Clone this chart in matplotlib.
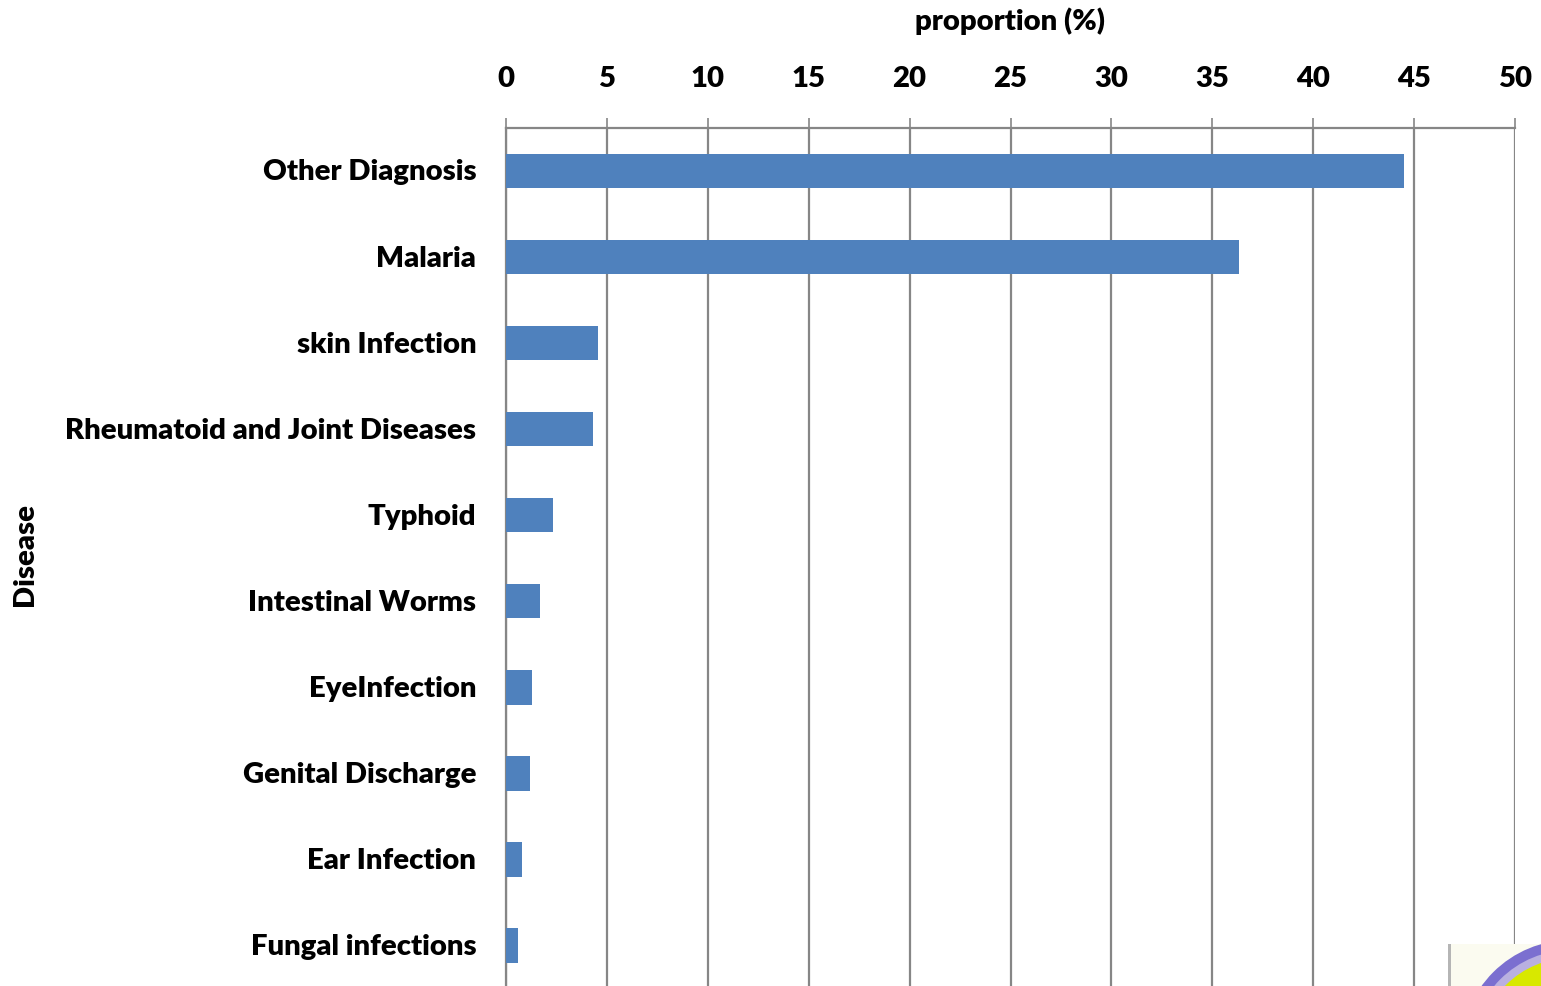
import matplotlib
matplotlib.use("Agg")
import matplotlib.pyplot as plt
from matplotlib.patches import Circle, Rectangle
from matplotlib.transforms import ScaledTranslation

plt.rcParams['font.family'] = ['Lato', 'DejaVu Sans']

diseases = ["Other Diagnosis", "Malaria", "skin Infection",
            "Rheumatoid and Joint Diseases", "Typhoid", "Intestinal Worms",
            "EyeInfection", "Genital Discharge", "Ear Infection", "Fungal infections"]
proportion = [44.5, 36.3, 4.56, 4.3, 2.33, 1.68, 1.29, 1.2, 0.8, 0.6]
x_ticks = list(range(0, 55, 5))

W, H = 1541, 987
WEIGHT = 'heavy'
FS = 21.1
fig = plt.figure(figsize=(W / 100, H / 100), dpi=100)

# plot area runs slightly past the lower edge of the canvas
left, right, top, bottom = 506, 1515, 128.7, 989.7
ax = fig.add_axes([left / W, 1 - bottom / H, (right - left) / W, (bottom - top) / H])

GREY = "#868686"
ax.set_axisbelow(True)
ax.grid(axis='x', color=GREY, lw=1.6)
ax.barh(range(len(diseases)), proportion, height=0.4, color="#4F81BD", zorder=3)

ax.set_xlim(0, 50)
ax.set_ylim(len(diseases) - 0.5, -0.5)
ax.xaxis.tick_top()
ax.set_xticks(x_ticks)
ax.set_xticklabels([str(t) for t in x_ticks], fontsize=FS, fontweight=WEIGHT)
ax.tick_params(axis='x', length=7.5, width=1.2, color=GREY, pad=18.8)
ax.set_yticks(range(len(diseases)))
ax.set_yticklabels(diseases, fontsize=FS, fontweight=WEIGHT)
ax.tick_params(axis='y', length=0, pad=21.5)

# nudge the category labels up a little relative to the bar centres
nudge = ScaledTranslation(0, 1.8 / 100, fig.dpi_scale_trans)
for label in ax.get_yticklabels():
    label.set_transform(label.get_transform() + nudge)

for side in ['right', 'bottom']:
    ax.spines[side].set_visible(False)
ax.spines['top'].set_color(GREY)
ax.spines['top'].set_linewidth(1.6)
ax.spines['left'].set_color(GREY)
ax.spines['left'].set_linewidth(1.6)

fig.text(1010 / W, 1 - 21.5 / H, "proportion (%)", fontsize=FS, fontweight=WEIGHT,
         ha='center', va='center')
fig.text(25 / W, 1 - 555 / H, "Disease", fontsize=FS, fontweight=WEIGHT,
         rotation=90, ha='center', va='center')

# corner of the emblem, in pixel-based overlay axes
ov = fig.add_axes([0, 0, 1, 1], facecolor='none')
ov.set_xlim(0, W)
ov.set_ylim(H, 0)
ov.axis('off')
ov.add_patch(Rectangle((1449, 945), 92, 42, color="#FBFBF0", lw=0))
ov.add_patch(Rectangle((1448, 945), 3, 42, color="#B5B5B5", lw=0))
ov.add_patch(Circle((1571, 1051), 110, color="#7B6FD0", lw=0))
ov.add_patch(Circle((1571, 1051), 100, color="#B9B0E0", lw=0))
ov.add_patch(Circle((1571, 1051), 92, color="#D8E800", lw=0))

fig.savefig("out.png", dpi=100)
